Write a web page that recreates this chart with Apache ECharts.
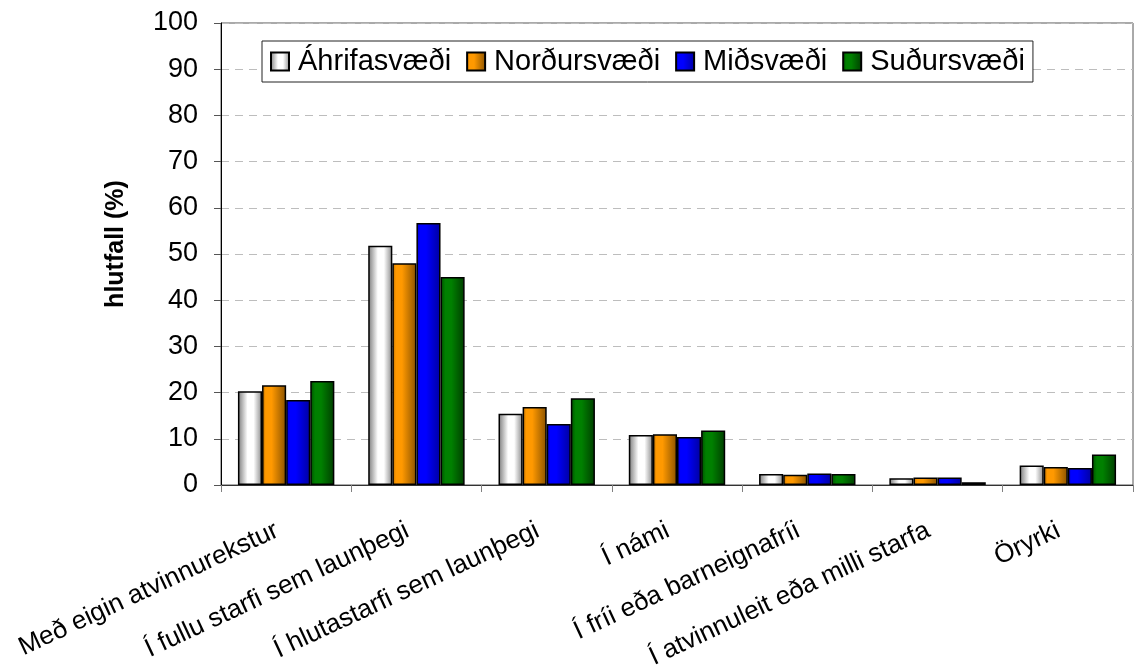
<!DOCTYPE html>
<html>
<head>
<meta charset="utf-8">
<script src="https://cdn.jsdelivr.net/npm/echarts@6/dist/echarts.min.js"></script>
<style>
  html, body { margin: 0; padding: 0; background: #fff; }
  #chart { width: 1137px; height: 667px; }
</style>
</head>
<body>
<div id="chart"></div>
<script>
// ============================================================
// 数据
// ============================================================
var CATEGORIES = [
  'Með eigin atvinnurekstur',
  'Í fullu starfi sem launþegi',
  'Í hlutastarfi sem launþegi',
  'Í námi',
  'Í fríi eða barneignafríi',
  'Í atvinnuleit eða milli starfa',
  'Öryrki'
];
var SERIES_NAMES = ['Áhrifasvæði', 'Norðursvæði', 'Miðsvæði', 'Suðursvæði'];
var AHRIF = [20.3, 51.8, 15.4, 10.8, 2.4, 1.45, 4.2];
var NORDUR = [21.6, 48.0, 16.9, 11.0, 2.2, 1.65, 3.9];
var MID = [18.4, 56.7, 13.2, 10.4, 2.5, 1.65, 3.7];
var SUDUR = [22.5, 45.0, 18.8, 11.8, 2.4, 0.6, 6.6];
var Y_TICKS = [0, 10, 20, 30, 40, 50, 60, 70, 80, 90, 100];

var FONT = '"Liberation Sans", Arial, sans-serif';

// 横向渐变，模拟 Excel 的柱子立体效果
function grad(edgeL, mid, edgeR, peak) {
  return new echarts.graphic.LinearGradient(0, 0, 1, 0, [
    { offset: 0, color: edgeL },
    { offset: peak, color: mid },
    { offset: Math.min(1, peak + 0.25), color: mid },
    { offset: 1, color: edgeR }
  ]);
}

var FILLS = [
  grad('#7a7a7a', '#ffffff', '#8a8a8a', 0.4),
  grad('#b36b00', '#ff9900', '#8a5200', 0.15),
  grad('#0000c8', '#0000ff', '#0000a0', 0.15),
  grad('#004d00', '#008000', '#003d00', 0.2)
];

var DATA = [AHRIF, NORDUR, MID, SUDUR];

var series = SERIES_NAMES.map(function(name, i) {
  return {
    name: name,
    type: 'bar',
    data: DATA[i],
    barGap: '0%',
    barCategoryGap: '26%',
    itemStyle: { color: FILLS[i], borderColor: '#000', borderWidth: 1.5 },
    emphasis: { disabled: true }
  };
});

var chart = echarts.init(document.getElementById('chart'));
chart.setOption({
  animation: false,
  textStyle: { fontFamily: FONT },
  grid: {
    left: 221, right: 4, top: 23, bottom: 182,
    outerBoundsMode: 'none',
    show: true, borderColor: '#555', borderWidth: 1
  },
  legend: {
    left: 262, top: 41,
    padding: [6, 8],
    itemWidth: 18, itemHeight: 18, itemGap: 15,
    backgroundColor: '#fff',
    borderColor: '#222', borderWidth: 1,
    icon: 'rect',
    textStyle: { fontFamily: FONT, fontSize: 29, color: '#000', padding: [0, 0, 0, 4] },
    data: SERIES_NAMES
  },
  xAxis: {
    type: 'category',
    data: CATEGORIES,
    axisLine: { lineStyle: { color: '#333', width: 1 } },
    axisTick: { show: true, length: 7, lineStyle: { color: '#808080' } },
    axisLabel: {
      interval: 0, rotate: 25, margin: 40,
      padding: [0, 10, 0, 0],
      fontFamily: FONT, fontSize: 26, color: '#000'
    }
  },
  yAxis: {
    type: 'value',
    min: Y_TICKS[0], max: Y_TICKS[Y_TICKS.length - 1], interval: 10,
    name: 'hlutfall (%)',
    nameLocation: 'middle',
    nameGap: 92,
    nameTextStyle: {
      fontFamily: FONT, fontSize: 25, fontWeight: 'bold', color: '#000',
      padding: [0, 0, 0, 20]
    },
    axisLine: { show: true, lineStyle: { color: '#000', width: 1 } },
    axisTick: { show: true, length: 7, lineStyle: { color: '#555' } },
    axisLabel: { margin: 23, fontFamily: FONT, fontSize: 27, color: '#000' },
    splitLine: { lineStyle: { color: '#bdbdbd', type: [8, 6], width: 1 } }
  },
  series: series
});
</script>
</body>
</html>
